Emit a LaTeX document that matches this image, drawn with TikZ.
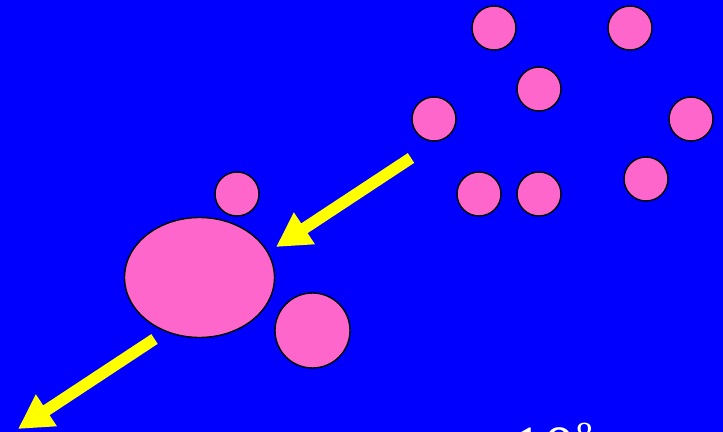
\documentclass[tikz,border=0pt]{standalone}
\usepackage{fontspec}
\setmainfont{Liberation Serif}
\usepackage{tikz}
\usetikzlibrary{arrows.meta,shapes.geometric}
\definecolor{skyblue}{RGB}{0,0,255}
\definecolor{blobpink}{RGB}{255,102,204}
\definecolor{flowyellow}{RGB}{255,255,0}
\tikzset{
  blob/.style   = {circle, draw=black, fill=blobpink, line width=1.2pt, inner sep=0pt, minimum size=1.32cm},
  bigblob/.style = {blob, minimum size=2.25cm},
  core/.style   = {ellipse, draw=black, fill=blobpink, line width=1.2pt, inner sep=0pt, minimum width=4.5cm, minimum height=3.6cm},
  infall/.style = {-{Triangle[length=1.02cm, width=1.07cm]}, line width=0.35cm, draw=flowyellow},
}

\begin{document}
\begin{tikzpicture}[x=0.03cm, y=-0.03cm]
  \useasboundingbox (0,0) rectangle (723,432);
  \clip (0,0) rectangle (723,432);
  \fill[skyblue] (0,0) rectangle (723,432);

  \node[blob] (g1) at (494,28) {};
  \node[blob] (g2) at (630,28) {};
  \node[blob] (g3) at (539,89) {};
  \node[blob] (g4) at (434,119) {};
  \node[blob] (g5) at (691,119) {};
  \node[blob] (g6) at (479,194) {};
  \node[blob] (g7) at (539,194) {};
  \node[blob] (g8) at (646,179) {};

  \node[core] (cd) at (199.5,277.5) {};
  \node[blob] (sat) at (237,194) {};
  \node[bigblob] (comp) at (312.5,330.5) {};

  \coordinate (in1) at (411,158);
  \coordinate (in2) at (276,247);
  \coordinate (out1) at (154.5,339);
  \coordinate (out2) at (18,429);
  \draw[infall] (in1) -- (in2);
  \draw[infall] (out1) -- (out2);

  \node[anchor=base west, inner sep=0pt, text=white, font=\fontsize{55}{64}\selectfont] (age) at (511,471) {10\raisebox{0.38em}{\fontsize{30}{30}\selectfont 8}};
\end{tikzpicture}
\end{document}
